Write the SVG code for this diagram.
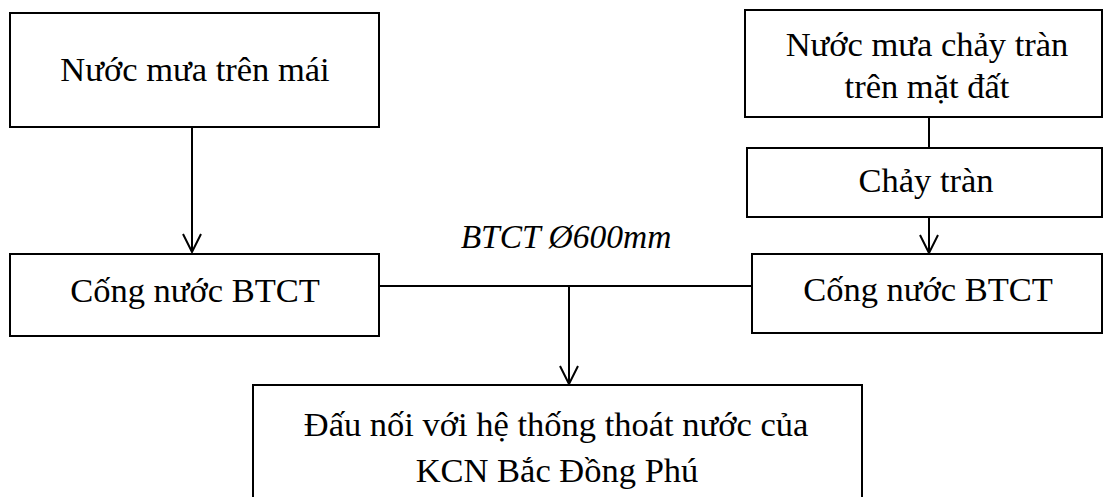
<svg xmlns="http://www.w3.org/2000/svg" width="1104" height="497" viewBox="0 0 1104 497">
<style>
.box{fill:#fff;stroke:#000;stroke-width:2}
.t{font-family:"Liberation Serif","Times New Roman",serif;font-size:34.5px;fill:#000;text-anchor:middle}
.it{font-style:italic;font-size:33.5px}
.c{stroke:#000;stroke-width:2;fill:none}
</style>
<defs>
<marker id="arr" viewBox="0 0 20 20" refX="19" refY="10" markerWidth="20" markerHeight="20" markerUnits="userSpaceOnUse" orient="auto">
<path d="M1,1 L19,10 L1,19" fill="none" stroke="#000" stroke-width="2"/>
</marker>
</defs>
<rect width="1104" height="497" fill="#fff"/>
<g id="connectors">
<line class="c" x1="192" y1="127" x2="192" y2="252" marker-end="url(#arr)"/>
<line class="c" x1="929" y1="117" x2="929" y2="148"/>
<line class="c" x1="929" y1="217" x2="929" y2="253" marker-end="url(#arr)"/>
<line class="c" x1="379" y1="286" x2="752" y2="286"/>
<line class="c" x1="569" y1="286" x2="569" y2="384" marker-end="url(#arr)"/>
<text class="t it" x="566" y="248">BTCT Ø600mm</text>
</g>
<g id="n1">
<rect class="box" x="10" y="13" width="369" height="114"/>
<text class="t" x="195" y="81">Nước mưa trên mái</text>
</g>
<g id="n2">
<rect class="box" x="745" y="10" width="357" height="107"/>
<text class="t" x="927" y="56">Nước mưa chảy tràn</text>
<text class="t" x="927" y="98">trên mặt đất</text>
</g>
<g id="n3">
<rect class="box" x="747" y="148" width="355" height="69"/>
<text class="t" x="926" y="192">Chảy tràn</text>
</g>
<g id="n4">
<rect class="box" x="10" y="254" width="369" height="82"/>
<text class="t" x="195" y="302">Cống nước BTCT</text>
</g>
<g id="n5">
<rect class="box" x="752" y="254" width="350" height="79"/>
<text class="t" x="928" y="301">Cống nước BTCT</text>
</g>
<g id="n6">
<rect class="box" x="253" y="385" width="609" height="120"/>
<text class="t" x="556" y="436">Đấu nối với hệ thống thoát nước của</text>
<text class="t" x="557" y="482">KCN Bắc Đồng Phú</text>
</g>
</svg>
